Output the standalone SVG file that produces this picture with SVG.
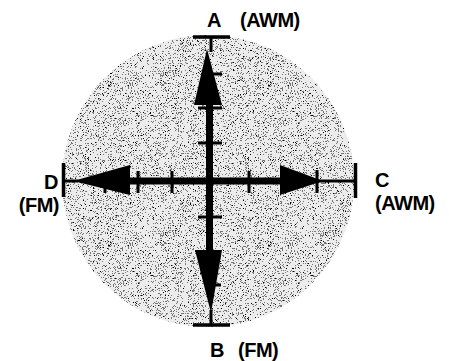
<svg xmlns="http://www.w3.org/2000/svg" width="449" height="361" viewBox="0 0 449 361">
<style>
.lbl{font-family:"Liberation Sans",Arial,sans-serif;font-weight:bold;font-size:20px;fill:#000;letter-spacing:-0.5px}
.ax{stroke:#000;fill:none}
.hd{fill:#000;stroke:none}
</style>
<defs>
<filter id="stip" x="0" y="0" width="1" height="1">
<feTurbulence type="fractalNoise" baseFrequency="1.6" numOctaves="1" seed="7" result="n"/>
<feColorMatrix in="n" type="matrix" values="0 0 0 0 0  0 0 0 0 0  0 0 0 0 0  1 0 0 0 0" result="a"/>
<feComponentTransfer in="a" result="t"><feFuncA type="discrete" tableValues="0 0 0 0 0 0 0.5 1 1 1"/></feComponentTransfer>
<feComposite in="t" in2="SourceGraphic" operator="in"/>
</filter>
</defs>
<rect width="449" height="361" fill="#fff"/>
<g id="disc">
<circle cx="208" cy="181" r="146" fill="#ececec"/>
<circle cx="208" cy="181" r="146" fill="#3a3a3a" filter="url(#stip)"/>
</g>
<g id="connectors">
<line class="ax" x1="193" y1="37" x2="230" y2="37" stroke-width="3.5"/>
<line class="ax" x1="211" y1="37" x2="211" y2="52" stroke-width="3"/>
<polygon class="hd" points="207,49 222,105 194,105"/>
<line class="ax" x1="209.5" y1="105" x2="209.5" y2="251" stroke-width="7"/>
<polygon class="hd" points="195,250 222,250 211,313"/>
<line class="ax" x1="211" y1="310" x2="211" y2="325" stroke-width="3"/>
<line class="ax" x1="193" y1="325" x2="230" y2="325" stroke-width="3.5"/>
<line class="ax" x1="213" y1="74" x2="222" y2="74" stroke-width="3"/>
<line class="ax" x1="198" y1="108" x2="222" y2="108" stroke-width="3"/>
<line class="ax" x1="198" y1="143" x2="222" y2="143" stroke-width="3"/>
<line class="ax" x1="198" y1="217" x2="222" y2="217" stroke-width="3"/>
<line class="ax" x1="211" y1="285" x2="221" y2="285" stroke-width="3"/>
<line class="ax" x1="63.5" y1="163" x2="63.5" y2="197" stroke-width="3.5"/>
<line class="ax" x1="63" y1="181" x2="78" y2="181" stroke-width="3"/>
<polygon class="hd" points="73,181 130,165 130,195"/>
<line class="ax" x1="129" y1="181" x2="282" y2="181" stroke-width="7"/>
<polygon class="hd" points="280,165 280,195 323,181"/>
<line class="ax" x1="318" y1="181" x2="355" y2="181" stroke-width="3"/>
<line class="ax" x1="355.5" y1="163" x2="355.5" y2="198" stroke-width="3.5"/>
<line class="ax" x1="105" y1="181" x2="105" y2="193" stroke-width="3"/>
<line class="ax" x1="138" y1="171" x2="138" y2="193" stroke-width="3"/>
<line class="ax" x1="172" y1="171" x2="172" y2="193" stroke-width="3"/>
<line class="ax" x1="249" y1="171" x2="249" y2="193" stroke-width="3"/>
<line class="ax" x1="317" y1="170" x2="317" y2="193" stroke-width="3"/>
</g>
<g id="label-A"><text class="lbl" x="207" y="27">A</text><text class="lbl" x="240" y="27">(AWM)</text></g>
<g id="label-B"><text class="lbl" x="210" y="357">B</text><text class="lbl" x="238" y="357">(FM)</text></g>
<g id="label-C"><text class="lbl" x="375" y="187">C</text><text class="lbl" x="375" y="210">(AWM)</text></g>
<g id="label-D"><text class="lbl" x="58" y="189" text-anchor="end">D</text><text class="lbl" x="59" y="212" text-anchor="end">(FM)</text></g>
</svg>
